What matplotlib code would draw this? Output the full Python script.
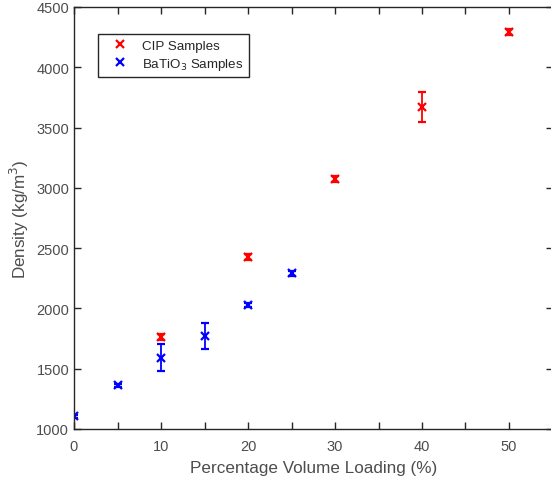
import numpy as np
import matplotlib.pyplot as plt
from matplotlib.lines import Line2D

plt.rcParams['font.family'] = ['Liberation Sans', 'DejaVu Sans']

# CIP samples
cip_x = [10, 20, 30, 40, 50]
cip_y = [1760, 2430, 3072, 3670, 4290]
cip_err = [25, 25, 25, 125, 25]

# BaTiO3 samples
bto_x = [0, 5, 10, 15, 20, 25]
bto_y = [1105, 1362, 1592, 1773, 2030, 2290]
bto_err = [15, 10, 110, 110, 18, 18]

fig = plt.figure(figsize=(5.51, 4.85), dpi=100)
ax = fig.add_axes([74 / 551, 1 - 430 / 485, 478.5 / 551, 422 / 485])

ax.errorbar(cip_x, cip_y, yerr=cip_err, fmt='x', color='red', ms=6, mew=1.6,
            elinewidth=1.3, capsize=3, capthick=1.3)
ax.errorbar(bto_x, bto_y, yerr=bto_err, fmt='x', color='blue', ms=6, mew=1.6,
            elinewidth=1.3, capsize=3, capthick=1.3)

ax.set_xlim(0, 55)
ax.set_ylim(1000, 4500)
ax.set_xticks(np.arange(0, 56, 5))
ax.set_xticklabels([str(v) if v % 10 == 0 else '' for v in range(0, 56, 5)])
ax.set_yticks(np.arange(1000, 4501, 500))

dark = '#262626'
grey = '#4d4d4d'
for s in ax.spines.values():
    s.set_color(dark)
    s.set_linewidth(1.0)
ax.tick_params(direction='in', length=5, width=1.0, color=dark, labelcolor=grey,
               labelsize=10.5, top=True, right=True)
ax.tick_params(axis='x', pad=7)
ax.set_xlabel('Percentage Volume Loading (%)', fontsize=12.3, color=grey, labelpad=5)
ax.set_ylabel('Density (kg/m$^3$)', fontsize=12.3, color=grey)

handles = [Line2D([], [], ls='none', marker='x', color='red', ms=6, mew=1.6),
           Line2D([], [], ls='none', marker='x', color='blue', ms=6, mew=1.6)]
leg = ax.legend(handles, ['CIP Samples', 'BaTiO$_3$ Samples'], loc='upper left',
                bbox_to_anchor=(0.05, 0.936), borderaxespad=0, fontsize=9.6,
                fancybox=False, edgecolor=dark, framealpha=1, handletextpad=0.4,
                handlelength=2.5, borderpad=0.4, labelspacing=0.3)
leg.get_frame().set_linewidth(1.0)
for t in leg.get_texts():
    t.set_color(dark)

fig.savefig('out.png', dpi=100)
